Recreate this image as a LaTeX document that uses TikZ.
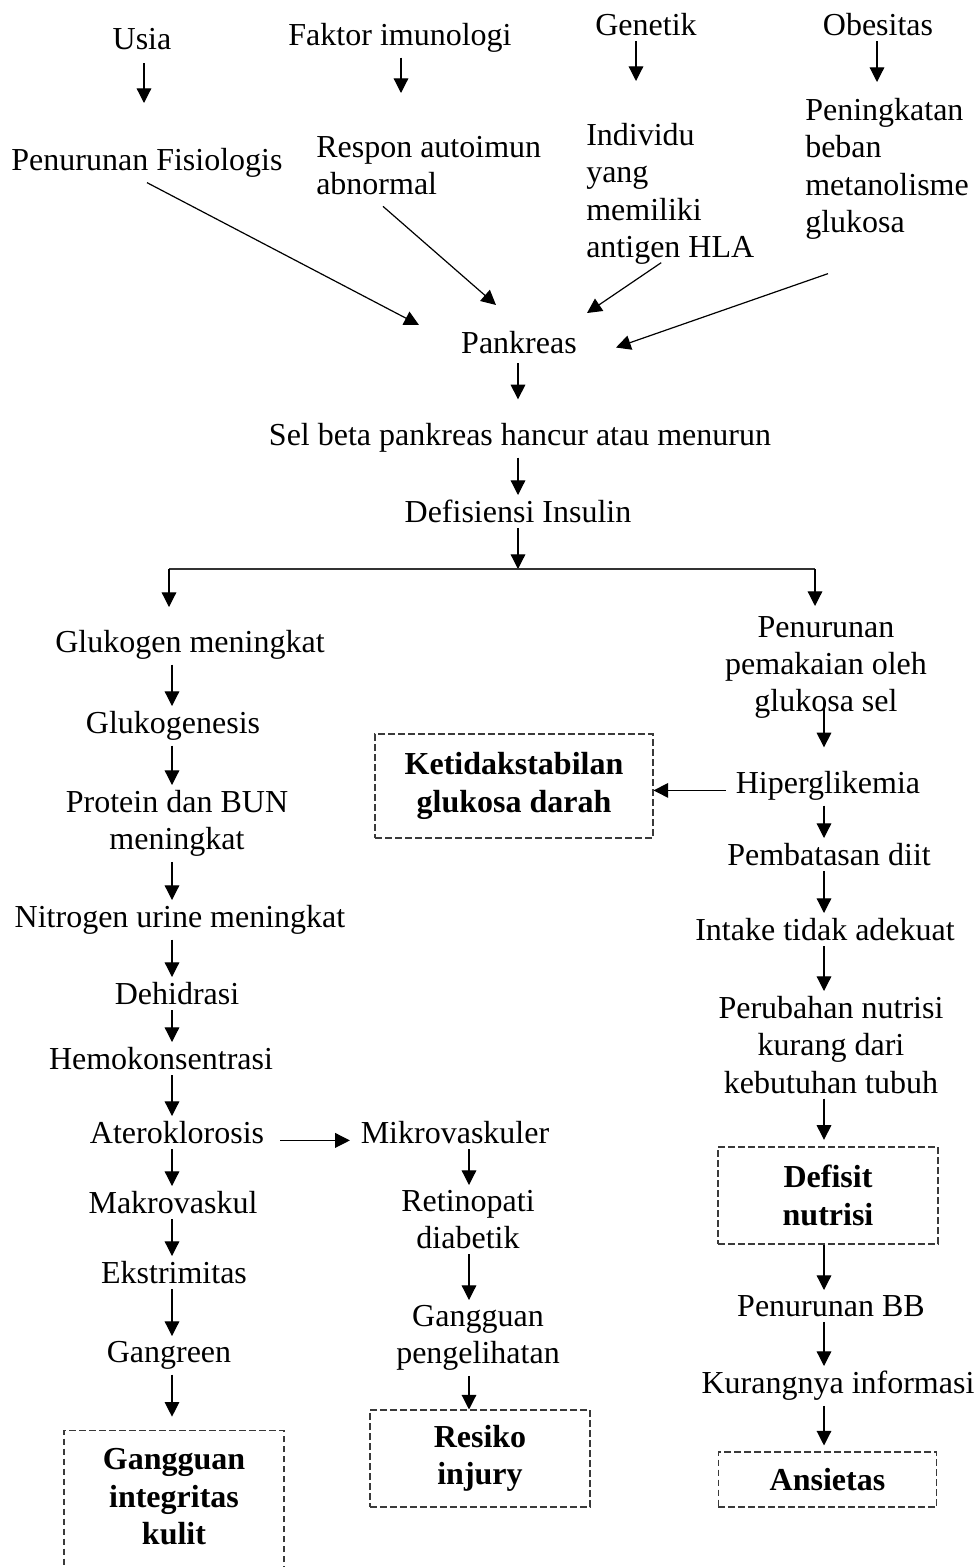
\documentclass[tikz,border=0pt]{standalone}
\usepackage{fontspec}
\setmainfont{Liberation Serif}
\usepackage{xcolor}
\usetikzlibrary{arrows.meta,calc}
\definecolor{ink}{HTML}{000000}
\definecolor{dash}{HTML}{3A3A3A}
\tikzset{
  txt/.style={inner xsep=0pt,inner ysep=3.75pt,align=center,anchor=north,text=ink,font=\fontsize{24}{28}\selectfont},
  lefttxt/.style={txt,align=left,anchor=north west},
  dbox/.style={draw=dash,dash pattern=on 5pt off 2.5pt,line width=0.8pt,inner sep=0pt,align=center,text=ink,font=\fontsize{24}{28}\selectfont\bfseries},
  arr/.style={-{Triangle[length=11pt,width=11pt]},line width=0.9pt,draw=ink},
  link/.style={line width=0.9pt,draw=ink!80}
}

\begin{document}
\begin{tikzpicture}[x=0.75pt,y=-0.75pt]
  \useasboundingbox (0,0) rectangle (980,1567);
  % columns of the arrows
  \coordinate (ux) at (144,0);
  \coordinate (fx) at (401,0);
  \coordinate (gx) at (636,0);
  \coordinate (ox) at (877,0);
  \coordinate (cx) at (518,0);
  \coordinate (lx) at (172,0);
  \coordinate (mx) at (469,0);
  \coordinate (rx) at (824,0);

  % causes
  \node[txt] (usia) at (142,23) {Usia};
  \node[txt] (faktor) at (400,18) {Faktor imunologi};
  \node[txt] (genetik) at (646,8) {Genetik};
  \node[txt] (obesitas) at (878,8) {Obesitas};
  \node[txt] (penfis) at (147,143) {Penurunan Fisiologis};
  \node[lefttxt] (respon) at (316,131) {Respon autoimun\\abnormal};
  \node[lefttxt] (individu) at (586,118) {Individu\\yang\\memiliki\\antigen HLA};
  \node[lefttxt] (peningkatan) at (805,93) {Peningkatan\\beban\\metanolisme\\glukosa};

  % centre
  \node[txt] (pank) at (519,326) {Pankreas};
  \node[txt] (selbeta) at (520,418) {Sel beta pankreas hancur atau menurun};
  \node[txt] (defins) at (518,495) {Defisiensi Insulin};
  \coordinate (split) at (518,569);
  \coordinate (bl) at (169,569);
  \coordinate (br) at (815,569);

  % left branch
  \node[txt] (glukogen) at (190,625) {Glukogen meningkat};
  \node[txt] (glukogenesis) at (173,706) {Glukogenesis};
  \node[txt] (protein) at (177,785) {Protein dan BUN\\meningkat};
  \node[txt] (nitrogen) at (180,900) {Nitrogen urine meningkat};
  \node[txt] (dehidrasi) at (177,977) {Dehidrasi};
  \node[txt] (hemo) at (161,1042) {Hemokonsentrasi};
  \node[txt] (atero) at (177,1116) {Ateroklorosis};
  \node[txt] (makro) at (173,1186) {Makrovaskul};
  \node[txt] (ekstrim) at (174,1256) {Ekstrimitas};
  \node[txt] (gangreen) at (169,1336) {Gangreen};
  \node[dbox,anchor=north,minimum width=165pt,inner ysep=13.5pt,text depth=150pt] (gik) at (174,1430) {Gangguan\\integritas\\kulit};

  % middle branch
  \node[txt] (mikro) at (455,1116) {Mikrovaskuler};
  \node[txt] (retino) at (468,1185) {Retinopati\\diabetik};
  \node[txt] (gpeng) at (478,1300) {Gangguan\\pengelihatan};
  \node[dbox,minimum width=165pt,minimum height=72.75pt] (resiko) at (480,1458.5) {Resiko\\injury};

  % right branch
  \node[txt] (penpem) at (826,611) {Penurunan\\pemakaian oleh\\glukosa sel};
  \node[txt] (hiper) at (828,766) {Hiperglikemia};
  \node[dbox,minimum width=208.5pt,minimum height=78pt] (ketidak) at (514,786) {Ketidakstabilan\\glukosa darah};
  \node[txt] (pembat) at (829,838) {Pembatasan diit};
  \node[txt] (intake) at (825,913) {Intake tidak adekuat};
  \node[txt] (perubahan) at (831,991) {Perubahan nutrisi\\kurang dari\\kebutuhan tubuh};
  \node[dbox,minimum width=165pt,minimum height=72.75pt] (defisit) at (828,1195.5) {Defisit\\nutrisi};
  \node[txt] (penbb) at (831,1290) {Penurunan BB};
  \node[txt] (kurang) at (838,1366) {Kurangnya informasi};
  \node[dbox,minimum width=164pt,minimum height=41.25pt] (ansietas) at (827.5,1479.5) {Ansietas};

  % connectors
  \draw[arr,shorten <=6pt,shorten >=30pt] (usia.south -| ux) -- (penfis.north -| ux);
  \draw[arr,shorten >=28.5pt] (faktor.south -| fx) -- (respon.north -| fx);
  \draw[arr,shorten >=27.75pt] (genetik.south -| gx) -- (individu.north -| gx);
  \draw[arr,shorten >=8.25pt] (obesitas.south -| ox) -- (peningkatan.north -| ox);
  \draw[arr] (penfis.south) -- ($(pank.north west)+(-42,-1)$);
  \draw[arr] ($(respon.south west)+(67,6)$) -- ($(pank.north)+(-23,-21)$);
  \draw[arr] ($(individu.south)+(-9,-7)$) -- ($(pank.north east)+(10,-13)$);
  \draw[arr] ($(peningkatan.south west)+(23,29)$) -- ($(pank.east)+(39,5)$);
  \draw[arr,shorten <=3pt,shorten >=14pt] (pank.south -| cx) -- (selbeta.north -| cx);
  \draw[arr] (selbeta.south -| cx) -- (defins.north -| cx);
  \draw[arr] (defins.south -| cx) -- (split);
  \draw[link] (bl) -- (br);
  \draw[arr,shorten >=13.5pt] (bl) -- (bl |- glukogen.north);
  \draw[arr,shorten >=3.75pt] (br) -- (br |- penpem.north);

  \draw[arr] (glukogen.south -| lx) -- (glukogenesis.north -| lx);
  \draw[arr] (glukogenesis.south -| lx) -- (protein.north -| lx);
  \draw[arr] (protein.south -| lx) -- (nitrogen.north -| lx);
  \draw[arr] (nitrogen.south -| lx) -- (dehidrasi.north -| lx);
  \draw[arr] (dehidrasi.south -| lx) -- (hemo.north -| lx);
  \draw[arr] (hemo.south -| lx) -- (atero.north -| lx);
  \draw[arr] (atero.south -| lx) -- (makro.north -| lx);
  \draw[arr] (makro.south -| lx) -- (ekstrim.north -| lx);
  \draw[arr] (ekstrim.south -| lx) -- (gangreen.north -| lx);
  \draw[arr,shorten >=10pt] (gangreen.south -| lx) -- (gik.north -| lx);

  \draw[arr,shorten <=12pt,shorten >=8pt] (atero.mid east) -- (mikro.mid west);
  \draw[arr] (mikro.south -| mx) -- (retino.north -| mx);
  \draw[arr] (retino.south -| mx) -- (gpeng.north -| mx);
  \draw[arr] (gpeng.south -| mx) -- (resiko.north -| mx);

  \draw[arr,shorten <=-18pt,shorten >=14pt] (penpem.south -| rx) -- (hiper.north -| rx);
  \draw[arr,shorten <=7.5pt] (hiper.mid west) -- (hiper.mid west -| ketidak.east);
  \draw[arr] (hiper.south -| rx) -- (pembat.north -| rx);
  \draw[arr] (pembat.south -| rx) -- (intake.north -| rx);
  \draw[arr] (intake.south -| rx) -- (perubahan.north -| rx);
  \draw[arr,shorten >=5pt] (perubahan.south -| rx) -- (defisit.north -| rx);
  \draw[arr] (defisit.south -| rx) -- (penbb.north -| rx);
  \draw[arr] (penbb.south -| rx) -- (kurang.north -| rx);
  \draw[arr,shorten >=4.5pt] (kurang.south -| rx) -- (ansietas.north -| rx);
\end{tikzpicture}
\end{document}
